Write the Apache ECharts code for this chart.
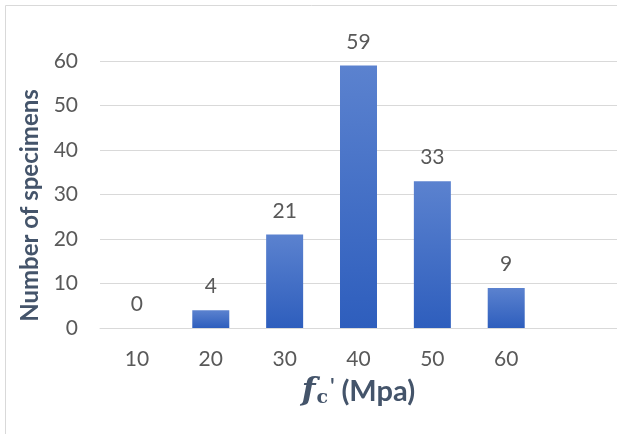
<!DOCTYPE html>
<html><head><meta charset="utf-8">
<script src="https://cdn.jsdelivr.net/npm/echarts@6/dist/echarts.min.js"></script>
<style>html,body{margin:0;padding:0;background:#fff}#c{width:617px;height:434px}</style>
</head><body><div id="c"></div>
<script>
const categories = ['10','20','30','40','50','60',''];
const counts = [0, 4, 21, 59, 33, 9, null];
const yTicks = [0, 10, 20, 30, 40, 50, 60];

const chart = echarts.init(document.getElementById('c'));
const txt = '#595959';
const ttl = '#44546a';
const font = 'Lato';
chart.setOption({
  animation: false,
  graphic: [{
    type: 'rect', shape: {x: 5.5, y: 5.5, width: 700, height: 600},
    style: {fill: 'none', stroke: '#d9d9d9', lineWidth: 1}, silent: true
  }],
  grid: {left: 100, right: -5, top: 61, bottom: 106, containLabel: false},
  xAxis: {
    type: 'category', data: categories,
    axisLine: {show: true, lineStyle: {color: '#d9d9d9', width: 1}},
    axisTick: {show: false},
    axisLabel: {color: txt, fontFamily: font, fontSize: 21, margin: 21},
    name: '{f|f}{c|c}{p|\'}{n| (Mpa)}', nameLocation: 'middle', nameGap: 47,
    nameTextStyle: {
      rich: {
        f: {fontFamily: 'DejaVu Serif', fontStyle: 'italic', fontWeight: 'bold', fontSize: 32, color: ttl},
        c: {fontFamily: 'DejaVu Serif', fontWeight: 'bold', fontSize: 19, color: ttl, padding: [14, 0, 0, 1]},
        p: {fontFamily: font, fontWeight: 'bold', fontSize: 20, color: ttl, padding: [0, 0, 10, 2]},
        n: {fontFamily: font, fontWeight: 'bold', fontSize: 29, color: ttl}
      }
    }
  },
  yAxis: {
    type: 'value', min: 0, max: 60, interval: 10,
    axisLine: {show: false}, axisTick: {show: false},
    splitLine: {lineStyle: {color: '#d9d9d9', width: 1}},
    axisLabel: {color: txt, fontFamily: font, fontSize: 21, margin: 22},
    name: 'Number of specimens', nameLocation: 'middle', nameGap: 43,
    nameTextStyle: {color: ttl, fontFamily: font, fontSize: 24, fontWeight: 'bold', padding: [0, 22, 0, 0]}
  },
  series: [{
    type: 'bar', data: counts, barWidth: 37,
    itemStyle: {color: new echarts.graphic.LinearGradient(0, 0, 0, 1, [
      {offset: 0, color: '#5b82cf'}, {offset: 1, color: '#2e5ebd'}])},
    label: {show: true, position: 'top', distance: 13, color: txt, fontFamily: font, fontSize: 21}
  }]
});
</script></body></html>
